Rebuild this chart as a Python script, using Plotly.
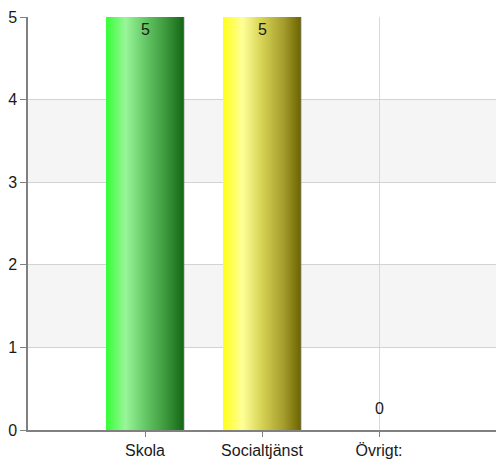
import plotly.graph_objects as go

categories = ["Skola", "Socialtjänst", "Övrigt:"]
values = [5, 5, 0]
y_ticks = [0, 1, 2, 3, 4, 5]

gradients = [
    [[0, "#33ff33"], [0.25, "#99f599"], [0.5, "#66c866"], [0.78, "#3a963a"], [1, "#146614"]],
    [[0, "#ffff1a"], [0.25, "#ffff99"], [0.5, "#d6d254"], [0.78, "#a49c2c"], [1, "#6b6400"]],
    [[0, "#cccccc"], [1, "#888888"]],
]

half_w = 0.333
FONT = "Liberation Sans, Arial, sans-serif"
fig = go.Figure()

# alternating bands
for lo in y_ticks[1:-1:2]:
    fig.add_shape(type="rect", xref="paper", yref="y", x0=0, x1=1, y0=lo, y1=lo + 1,
                  fillcolor="#f5f5f5", line_width=0, layer="below")

for i, (cat, v) in enumerate(zip(categories, values)):
    if v > 0:
        x0, x1 = i - half_w, i + half_w
        fig.add_trace(go.Scatter(
            x=[x0, x1, x1, x0, x0], y=[0, 0, v, v, 0],
            mode="lines", fill="toself",
            line=dict(width=0, color="rgba(0,0,0,0)"),
            fillgradient=dict(type="horizontal", colorscale=gradients[i], start=x0, stop=x1),
            hoverinfo="skip", showlegend=False,
        ))
        fig.add_trace(go.Scatter(
            x=[x1, x1], y=[0, v], mode="lines",
            line=dict(width=1, color="rgba(120,120,120,0.7)"),
            hoverinfo="skip", showlegend=False,
        ))
    fig.add_annotation(
        x=i, y=v, xref="x", yref="y", text=str(v), showarrow=False,
        yanchor="top" if v > 0 else "bottom",
        yshift=-2 if v > 0 else 11,
        font=dict(family=FONT, size=16, color="#1a1a1a"),
    )

fig.update_layout(
    width=496, height=461,
    margin=dict(l=28, r=0, t=17, b=31, autoexpand=False),
    paper_bgcolor="white", plot_bgcolor="white",
    font=dict(family=FONT, color="#1a1a1a"),
    xaxis=dict(
        range=[-1, 3], tickmode="array", tickvals=list(range(len(categories))),
        ticktext=categories, showgrid=True, gridcolor="#d9d9d9", gridwidth=1,
        zeroline=False, showline=True, linecolor="#808080", linewidth=1.5,
        ticks="outside", ticklen=5, tickcolor="#808080",
        tickfont=dict(size=16), fixedrange=True,
    ),
    yaxis=dict(
        range=[0, 5], tickmode="array", tickvals=y_ticks,
        showgrid=True, gridcolor="#d3d3d3", gridwidth=1,
        zeroline=False, showline=True, linecolor="#808080", linewidth=1.5,
        ticks="outside", ticklen=6, tickcolor="#808080",
        tickfont=dict(size=16), fixedrange=True,
    ),
)

fig.write_html("out.html", config={"displayModeBar": False},
               post_script="document.body.style.margin='0';document.body.style.overflow='hidden';")
